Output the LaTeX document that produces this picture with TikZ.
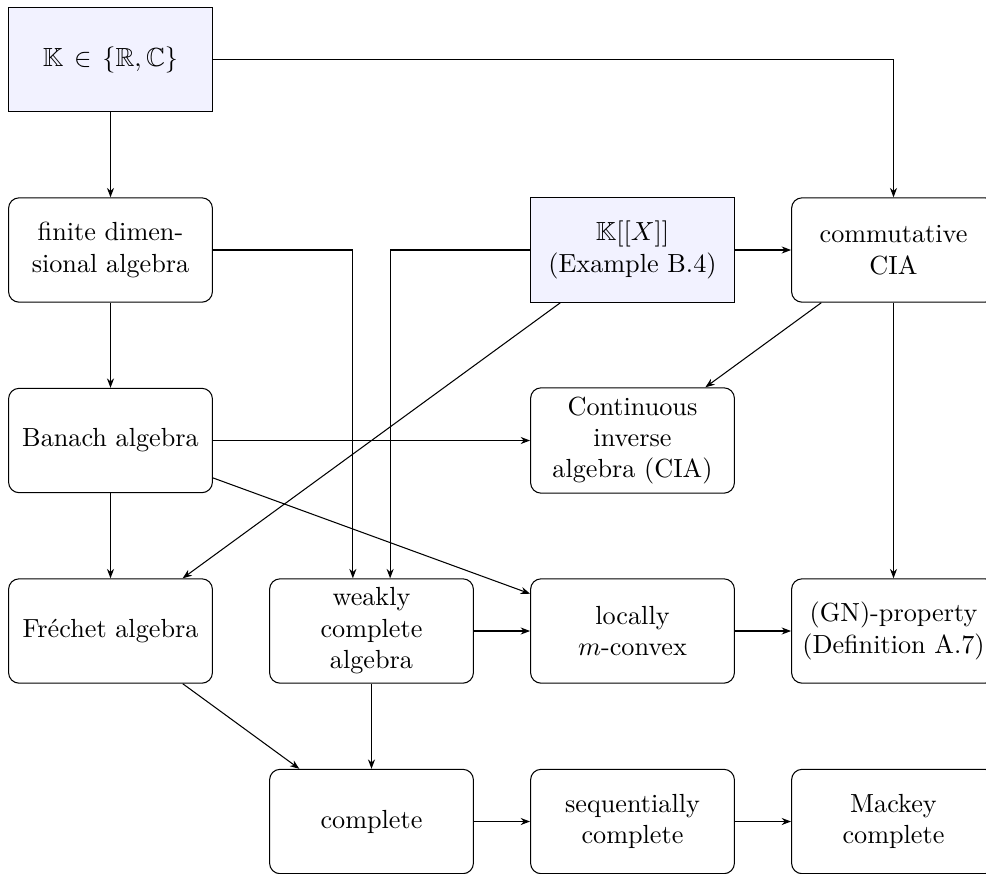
\documentclass[tikz,border=0pt]{standalone}
\usepackage{amssymb}
\usepackage{fontspec}
\usetikzlibrary{arrows.meta}
\tikzset{
  box/.style={draw, rounded corners=4pt, text width=2.5cm, align=center,
    minimum height=1.4cm, inner sep=3.33pt, line width=0.4pt},
  sharpbox/.style={box, rounded corners=0pt, fill=blue!5},
  arr/.style={-{Stealth[length=3.6pt,width=2.7pt]}, line width=0.4pt}
}
\begin{document}
\begin{tikzpicture}[x=0.3817pt, y=-0.3817pt]
\useasboundingbox (0,0) rectangle (986,873);
% columns 110.5, 371.5, 632.5, 893.5 ; rows 59.5, 250, 440.5, 631, 821.5
\node[sharpbox] (k) at (110.5,59.5) {$\mathbb{K}\in\{\mathbb{R},\mathbb{C}\}$};
\node[box] (finite) at (110.5,250) {finite dimen-\\sional algebra};
\node[sharpbox] (kxx) at (632.5,250) {$\mathbb{K}[[X]]$\\(Example B.4)};
\node[box] (comm) at (893.5,250) {commutative\\CIA};
\node[box] (banach) at (110.5,440.5) {Banach algebra};
\node[box] (cia) at (632.5,440.5) {Continuous\\inverse\\algebra (CIA)};
\node[box] (frechet) at (110.5,631) {Fréchet algebra};
\node[box] (weakly) at (371.5,631) {weakly\\complete\\algebra};
\node[box] (locally) at (632.5,631) {locally\\$m$-convex};
\node[box] (gn) at (893.5,631) {(GN)-property\\(Definition A.7)};
\node[box] (complete) at (371.5,821.5) {complete};
\node[box] (seq) at (632.5,821.5) {sequentially\\complete};
\node[box] (mackey) at (893.5,821.5) {Mackey\\complete};

\draw[arr] (k) -- (finite);
\draw[arr] (k) -| (comm);
\draw[arr] (finite) -- (banach);
\draw[arr] (finite) -| ([xshift=-0.25cm]weakly.north);
\draw[arr] (kxx) -| ([xshift=0.25cm]weakly.north);
\draw[arr] (kxx) -- (comm);
\draw[arr] (kxx) -- (frechet);
\draw[arr] (comm) -- (cia);
\draw[arr] (comm) -- (gn);
\draw[arr] (banach) -- (cia);
\draw[arr] (banach) -- (frechet);
\draw[arr] (banach) -- (locally);
\draw[arr] (weakly) -- (locally);
\draw[arr] (locally) -- (gn);
\draw[arr] (frechet) -- (complete);
\draw[arr] (weakly) -- (complete);
\draw[arr] (complete) -- (seq);
\draw[arr] (seq) -- (mackey);
\end{tikzpicture}
\end{document}
